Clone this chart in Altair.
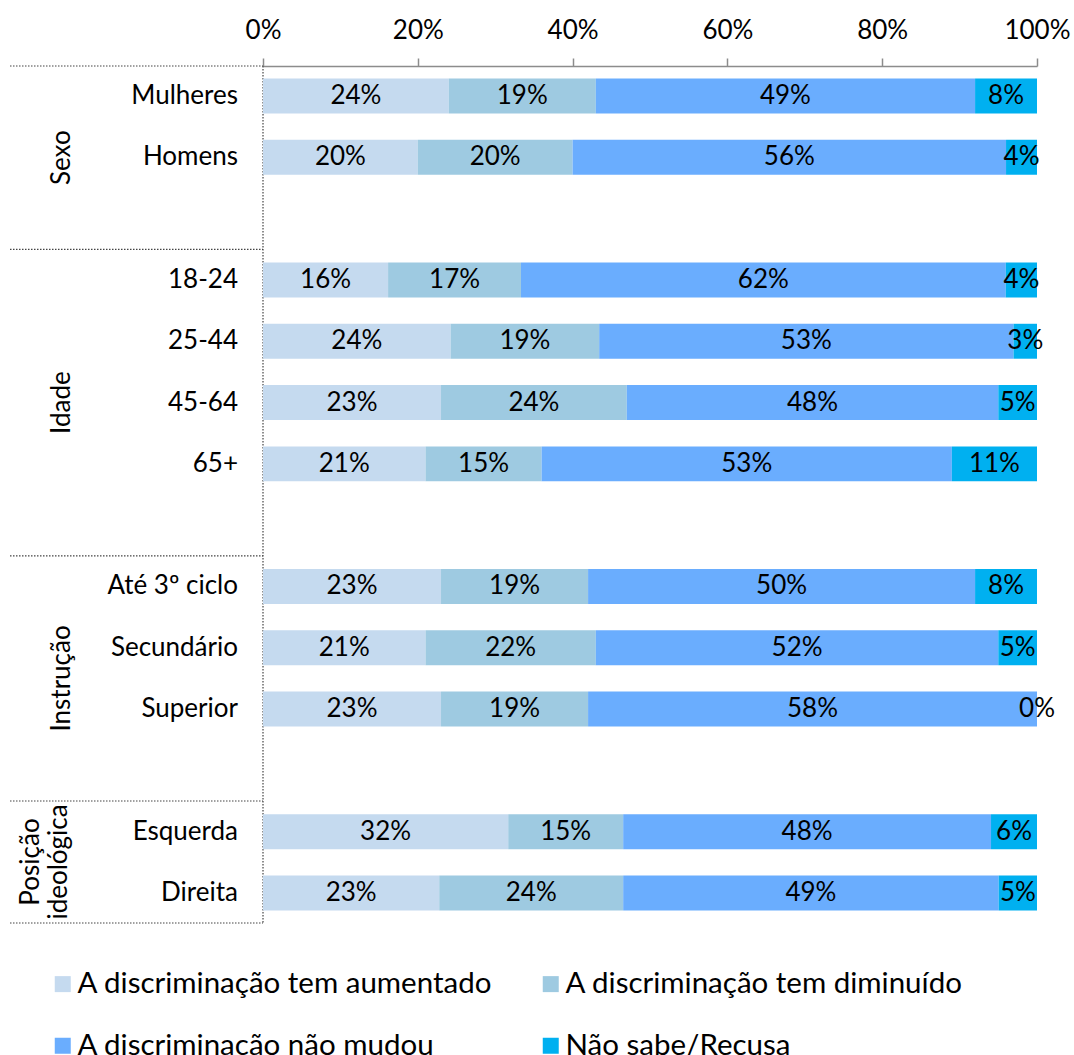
import altair as alt
import pandas as pd

# Survey breakdown: perception of discrimination by group
categories = ["Mulheres", "Homens", "18-24", "25-44", "45-64", "65+",
              "Até 3º ciclo", "Secundário", "Superior", "Esquerda", "Direita"]
groups = ["Sexo", "Sexo", "Idade", "Idade", "Idade", "Idade",
          "Instrução", "Instrução", "Instrução",
          "Posição\nideológica", "Posição\nideológica"]

series = ["A discriminação tem aumentado", "A discriminação tem diminuído",
          "A discriminação não mudou", "Não sabe/Recusa"]
colors = ["#C5DAEF", "#9ECAE1", "#6AADFE", "#00B0F0"]

aumentado = [24, 20, 16, 24, 23, 21, 23, 21, 23, 32, 23]
diminuido = [19, 20, 17, 19, 24, 15, 19, 22, 19, 15, 24]
nao_mudou = [49, 56, 62, 53, 48, 53, 50, 52, 58, 48, 49]
nao_sabe = [8, 4, 4, 3, 5, 11, 8, 5, 0, 6, 5]

values = [aumentado, diminuido, nao_mudou, nao_sabe]

# Row slots: one empty slot between consecutive groups
slots = []
slot = 0
for i, g in enumerate(groups):
    if i > 0 and g != groups[i - 1]:
        slot += 1
    slots.append(slot)
    slot += 1

PAD = 0.49
y_top = -PAD
y_bottom = slots[-1] + PAD

rows = []
for i, cat in enumerate(categories):
    for j, s in enumerate(series):
        v = values[j][i]
        rows.append({"category": cat, "slot": slots[i], "series": s,
                     "order": j, "value": v, "label": f"{v}%"})
df = pd.DataFrame(rows)

cat_df = pd.DataFrame({"category": categories, "slot": slots})

# Group spans (between dotted separators) and their centres
group_names = list(dict.fromkeys(groups))
starts = []
for g in group_names:
    first = slots[groups.index(g)]
    starts.append(y_top if first == 0 else first - 0.5)
ends = starts[1:] + [y_bottom]
grp_df = pd.DataFrame({"group": group_names,
                       "lines": [g.count("\n") + 1 for g in group_names],
                       "center": [(a + b) / 2 for a, b in zip(starts, ends)]})
sep_df = pd.DataFrame({"y": starts + [y_bottom]})

xscale = alt.Scale(domain=[0, 1], nice=False, zero=False)
yscale = alt.Scale(domain=[y_top, y_bottom], reverse=True, nice=False, zero=False)

FONT = "Lato"
FS = 26
LEGEND_FS = 29.5
LINE_H = 28

x_axis = alt.Axis(orient="top", format=".0%", values=[0, 0.2, 0.4, 0.6, 0.8, 1],
                  grid=False, labelFlush=False, labelOverlap=False,
                  domainColor="#8c8c8c", domainWidth=1.5,
                  tickColor="#8c8c8c", tickWidth=1.5, tickSize=8,
                  labelFont=FONT, labelFontSize=FS, labelColor="black",
                  labelPadding=15)

# Shares normalised within each row, stacked in series order
base = alt.Chart(df).transform_joinaggregate(
    total="sum(value)", groupby=["category"]
).transform_window(
    cum="sum(value)", sort=[alt.SortField("order", order="ascending")],
    groupby=["category"], frame=[None, 0]
).transform_calculate(
    x0="(datum.cum - datum.value) / datum.total",
    x1="datum.cum / datum.total",
    mid="(2 * datum.cum - datum.value) / (2 * datum.total)",
    ylo="datum.slot - 0.285",
    yhi="datum.slot + 0.285",
)

bars = base.mark_bar().encode(
    x=alt.X("x0:Q", scale=xscale, title=None, axis=x_axis),
    x2="x1:Q",
    y=alt.Y("ylo:Q", scale=yscale, axis=None),
    y2="yhi:Q",
    color=alt.Color("series:N", scale=alt.Scale(domain=series, range=colors),
                    legend=alt.Legend(orient="none", legendX=-215, legendY=903,
                                      direction="horizontal", columns=2,
                                      title=None, symbolType="square",
                                      symbolSize=256, symbolStrokeWidth=0,
                                      labelFont=FONT, labelFontSize=LEGEND_FS,
                                      labelColor="black", labelOffset=0,
                                      rowPadding=31, columnPadding=43,
                                      padding=0, labelLimit=0)),
)

bar_text = base.mark_text(font=FONT, fontSize=FS, color="black",
                          baseline="middle", align="center").encode(
    x=alt.X("mid:Q", scale=xscale, title=None, axis=x_axis),
    y=alt.Y("slot:Q", scale=yscale, axis=None),
    text="label:N",
)

cat_labels = alt.Chart(cat_df).mark_text(
    font=FONT, fontSize=FS, color="black", align="right", baseline="middle"
).encode(
    x=alt.value(-25),
    y=alt.Y("slot:Q", scale=yscale, axis=None),
    text="category:N",
)

# Rotated group titles; multi-line titles are shifted left so their last line
# lines up with the single-line ones
grp_layers = []
for n in sorted(grp_df["lines"].unique()):
    grp_layers.append(
        alt.Chart(grp_df[grp_df["lines"] == n]).mark_text(
            font=FONT, fontSize=FS, color="black", angle=270, align="center",
            baseline="bottom", lineBreak="\n", lineHeight=LINE_H
        ).encode(
            x=alt.value(-188 - (int(n) - 1) * (LINE_H + 3)),
            y=alt.Y("center:Q", scale=yscale, axis=None),
            text="group:N",
        )
    )

separators = alt.Chart(sep_df).mark_rule(
    color="#444444", strokeWidth=1.2, strokeDash=[1.5, 1.5]
).encode(
    x=alt.value(-253),
    x2=alt.value(0),
    y=alt.Y("y:Q", scale=yscale, axis=None),
)

vline = alt.Chart(pd.DataFrame({"y": [y_top], "y2": [y_bottom]})).mark_rule(
    color="#444444", strokeWidth=1.2, strokeDash=[1.5, 1.5]
).encode(
    x=alt.value(0),
    y=alt.Y("y:Q", scale=yscale, axis=None),
    y2="y2:Q",
)

chart = alt.layer(
    separators, vline, bars, bar_text, cat_labels, *grp_layers
).properties(
    width=774,
    height=857,
    autosize=alt.AutoSizeParams(type="none"),
    padding={"left": 263, "top": 66, "right": 37, "bottom": 132},
).configure_view(strokeWidth=0)

chart.save("out.html", embed_options={"renderer": "svg", "actions": False})
